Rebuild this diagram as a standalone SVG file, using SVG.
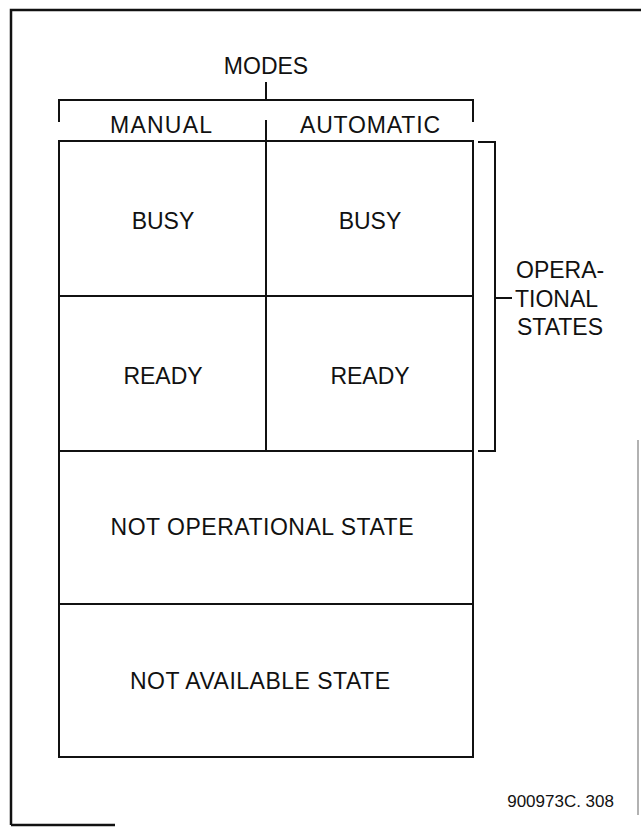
<svg xmlns="http://www.w3.org/2000/svg" width="641" height="828" viewBox="0 0 641 828">
<style>
.cell{fill:none;stroke:#111;stroke-width:2}
.ln{fill:none;stroke:#111;stroke-width:2;stroke-linecap:square}
.frame{fill:none;stroke:#111;stroke-width:2.5}
text{font-family:"Liberation Sans",Arial,sans-serif;font-size:23px;fill:#111}
.c{text-anchor:middle}
</style>
<rect width="641" height="828" fill="#fff"/>
<g id="frame">
<path class="frame" d="M11,825 V10 H641"/>
<path class="frame" d="M11,825 H115"/>
<path d="M638,440 V815" stroke="#999" stroke-width="1.5" fill="none"/>
</g>
<g id="modes-label">
<text class="c" x="266" y="74">MODES</text>
</g>
<g id="manual-label"><text class="c" x="161" y="133" textLength="102" lengthAdjust="spacing">MANUAL</text></g>
<g id="automatic-label"><text class="c" x="370" y="133" textLength="140" lengthAdjust="spacing">AUTOMATIC</text></g>
<g id="busy-manual"><rect class="cell" x="59" y="141" width="207" height="155"/><text class="c" x="163" y="229">BUSY</text></g>
<g id="busy-automatic"><rect class="cell" x="266" y="141" width="207" height="155"/><text class="c" x="370" y="229">BUSY</text></g>
<g id="ready-manual"><rect class="cell" x="59" y="296" width="207" height="155"/><text class="c" x="163" y="384">READY</text></g>
<g id="ready-automatic"><rect class="cell" x="266" y="296" width="207" height="155"/><text class="c" x="370" y="384">READY</text></g>
<g id="not-operational"><rect class="cell" x="59" y="451" width="414" height="153"/><text class="c" x="262" y="535" textLength="303" lengthAdjust="spacing">NOT OPERATIONAL STATE</text></g>
<g id="not-available"><rect class="cell" x="59" y="604" width="414" height="153"/><text class="c" x="260" y="689" textLength="260" lengthAdjust="spacing">NOT AVAILABLE STATE</text></g>
<g id="operational-label">
<text x="516" y="278">OPERA-</text>
<text x="515" y="307">TIONAL</text>
<text x="517" y="335">STATES</text>
</g>
<g id="connectors">
<path class="ln" d="M266,83 V100"/>
<path class="ln" d="M59,121 V100 H473 V121"/>
<path class="ln" d="M266,121 V141"/>
<path class="ln" d="M479,142 H495 V451 H479"/>
<path class="ln" d="M495,298 H511"/>
</g>
<g id="figure-number"><text x="614" y="807" text-anchor="end" style="font-size:17px">900973C. 308</text></g>
</svg>
